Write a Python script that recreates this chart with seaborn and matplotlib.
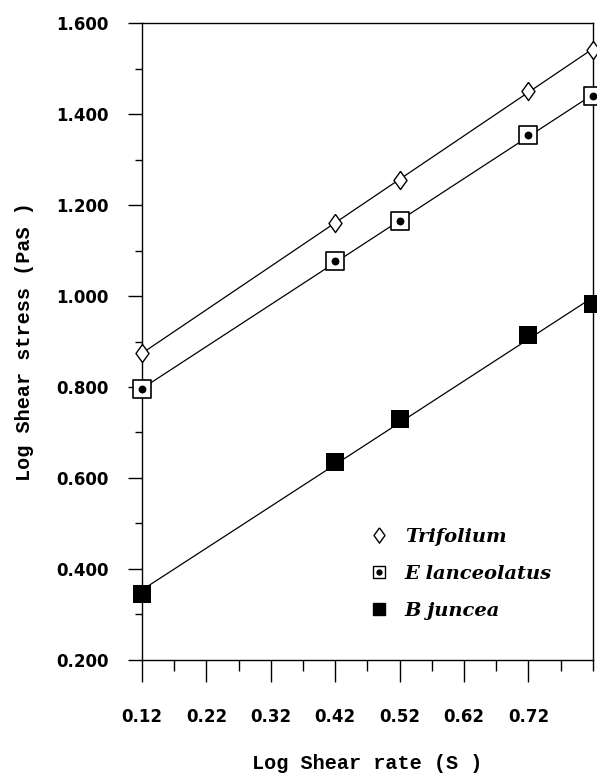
import numpy as np
import pandas as pd
import matplotlib
matplotlib.use('Agg')
import matplotlib.pyplot as plt
from matplotlib.lines import Line2D
from matplotlib.legend_handler import HandlerTuple
from matplotlib.ticker import MultipleLocator, FixedLocator
import seaborn as sns

# values
shear_rate = [0.12, 0.42, 0.52, 0.72, 0.82]
trifolium = [0.875, 1.160, 1.256, 1.452, 1.542]
lanceolatus = [0.795, 1.077, 1.165, 1.354, 1.440]
juncea = [0.345, 0.636, 0.730, 0.914, 0.982]
x_ticks = [0.12, 0.22, 0.32, 0.42, 0.52, 0.62, 0.72]
y_ticks = [0.2, 0.4, 0.6, 0.8, 1.0, 1.2, 1.4, 1.6]

df = pd.DataFrame({
    'rate': shear_rate * 3,
    'stress': trifolium + lanceolatus + juncea,
    'species': ['Trifolium'] * 5 + ['E lanceolatus'] * 5 + ['B juncea'] * 5,
})

sns.set_style('ticks')
plt.rcParams['font.family'] = ['DejaVu Sans']

fig = plt.figure(figsize=(5.97, 7.78), dpi=100)
ax = fig.add_axes([0.238, 0.152, 0.755, 0.818])

# fitted straight lines
for sp in ['Trifolium', 'E lanceolatus', 'B juncea']:
    sns.regplot(data=df[df.species == sp], x='rate', y='stress', ci=None,
                scatter=False, ax=ax, line_kws={'color': 'black', 'lw': 0.9})

# diamond a bit wider than matplotlib's thin diamond
diamond = [(0, 1), (0.72, 0), (0, -1), (-0.72, 0), (0, 1)]

tri = df[df.species == 'Trifolium']
lan = df[df.species == 'E lanceolatus']
jun = df[df.species == 'B juncea']
sns.scatterplot(data=tri, x='rate', y='stress', marker=diamond, s=170,
                facecolor='white', edgecolor='black', linewidth=1.0,
                ax=ax, clip_on=False, zorder=5)
sns.scatterplot(data=lan, x='rate', y='stress', marker='s', s=150,
                facecolor='white', edgecolor='black', linewidth=1.2,
                ax=ax, clip_on=False, zorder=5)
sns.scatterplot(data=lan, x='rate', y='stress', marker='o', s=32,
                color='black', linewidth=0, ax=ax, clip_on=False, zorder=6)
sns.scatterplot(data=jun, x='rate', y='stress', marker='s', s=165,
                color='black', linewidth=0, ax=ax, clip_on=False, zorder=5)

ax.set_xlim(0.12, 0.82)
ax.set_ylim(0.2, 1.6)
ax.xaxis.set_major_locator(FixedLocator(x_ticks))
ax.xaxis.set_minor_locator(MultipleLocator(0.05, offset=0.02))
ax.yaxis.set_major_locator(FixedLocator(y_ticks))
ax.yaxis.set_minor_locator(MultipleLocator(0.1))
ax.set_xticklabels(['%.2f' % v for v in x_ticks])
ax.set_yticklabels(['%.3f' % v for v in y_ticks])

for s in ax.spines.values():
    s.set_linewidth(1.0)
    s.set_color('black')
ax.tick_params(axis='x', which='major', direction='out', length=16, width=1.0,
               pad=19, labelsize=12, colors='black')
ax.tick_params(axis='x', which='minor', direction='out', length=8, width=1.0,
               colors='black')
ax.tick_params(axis='y', which='major', direction='out', length=10, width=1.0,
               pad=14, labelsize=12, colors='black')
ax.tick_params(axis='y', which='minor', direction='out', length=5, width=1.0,
               colors='black')
for lab in ax.get_xticklabels() + ax.get_yticklabels():
    lab.set_fontweight('bold')

ax.set_xlabel('Log Shear rate (S )', family='Liberation Mono',
              fontweight='bold', fontsize=14.5, labelpad=20, color='black')
ax.set_ylabel('Log Shear stress (PaS )', family='Liberation Mono',
              fontweight='bold', fontsize=14.5, labelpad=16, color='black')

h_tri = Line2D([], [], marker=diamond, ls='', ms=11, mfc='white', mec='black', mew=1.0)
h_sq = Line2D([], [], marker='s', ls='', ms=8, mfc='white', mec='black', mew=1.0)
h_dot = Line2D([], [], marker='o', ls='', ms=3.5, mfc='black', mec='black')
h_jun = Line2D([], [], marker='s', ls='', ms=8.5, mfc='black', mec='black')
leg = ax.legend([h_tri, (h_sq, h_dot), h_jun],
                ['Trifolium', 'E lanceolatus', 'B juncea'],
                handler_map={tuple: HandlerTuple(ndivide=1, pad=0)},
                loc='upper left', bbox_to_anchor=(0.466, 0.235), frameon=False,
                handlelength=1.0, handletextpad=0.8, labelspacing=0.98,
                labelcolor='black',
                prop={'family': 'DejaVu Serif', 'style': 'italic',
                      'weight': 'bold', 'size': 14})

fig.savefig('out.png', dpi=100)
